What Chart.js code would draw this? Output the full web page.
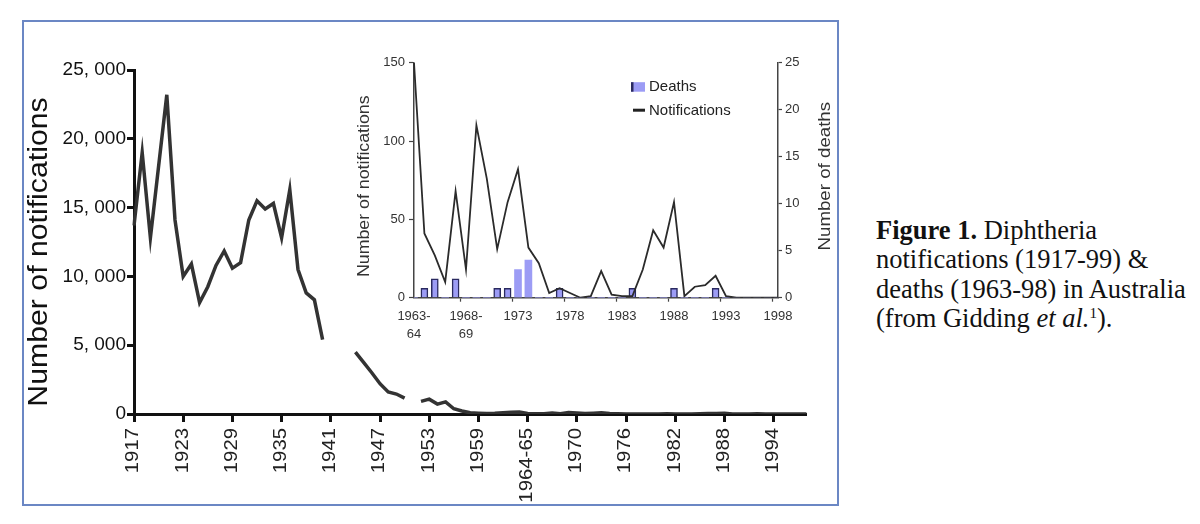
<!DOCTYPE html>
<html>
<head>
<meta charset="utf-8">
<script src="https://cdn.jsdelivr.net/npm/chart.js@4.4.1/dist/chart.umd.min.js"></script>
<style>
  html, body { margin: 0; padding: 0; background: #fff; }
  body { width: 1200px; height: 524px; position: relative; overflow: hidden; }
  #frame { position: absolute; left: 22px; top: 20px; width: 813px; height: 482px; border: 2px solid #6b87c4; }
  #mainWrap { position: absolute; left: 0; top: 0; width: 840px; height: 524px; }
  #insetWrap { position: absolute; left: 350px; top: 45px; width: 500px; height: 300px; }
  #caption { position: absolute; left: 876px; top: 216px; font-family: "Liberation Serif", "Times New Roman", serif; font-size: 26.5px; line-height: 29.3px; color: #111; white-space: nowrap; }
  #caption sup { font-size: 15px; line-height: 0; vertical-align: 9px; }
</style>
</head>
<body>
<div id="frame"></div>
<div id="mainWrap"><canvas id="mainChart" width="840" height="524"></canvas></div>
<div id="insetWrap"><canvas id="insetChart" width="500" height="300"></canvas></div>
<div id="caption"><b>Figure 1.</b> Diphtheria<br>notifications (1917-99) &amp;<br>deaths (1963-98) in Australia<br>(from Gidding <i>et al.</i><sup>1</sup>).</div>
<script>
// ---------- DATA ----------
const mainYears = [];
for (let y = 1917; y <= 1964; y++) mainYears.push(String(y));
mainYears.push("1964-65");
for (let y = 1965; y <= 1998; y++) mainYears.push(String(y));

const mainNotifications = [
  13700, 19000, 12800, 18000, 23200, 14100, 10000, 10900, 8100, 9250,
  10800, 11850, 10600, 11000, 14100, 15500, 14900, 15300, 12800, 16300,
  10500, 8800, 8300, 5400, null, null, null, 4500, 3750, 3000,
  2200, 1600, 1450, 1150, null, 920, 1080, 720, 880, 380,
  220, 90, 60, 40, 50, 90, 120, 150,
  41, 27, 10, 68, 18, 110, 76, 31, 61, 82,
  32, 22, 3, 6, 3, 0, 1, 17, 2, 1,
  1, 18, 43, 32, 61, 1, 7, 8, 14, 1,
  0, 0, 0, 0, 0
];

const mainYTicks = [0, 5000, 10000, 15000, 20000, 25000];
const mainYTitle = 'Number of notifications';

const insetYears = [["1963-", "64"], "1964-65", "1965-66", "1966-67", "1967-68", ["1968-", "69"]];
for (let y = 1969; y <= 1998; y++) insetYears.push(String(y));

const insetNotifications = [
  150, 41, 27, 10, 68, 18, 110, 76, 31, 61,
  82, 32, 22, 3, 6, 3, 0, 1, 17, 2,
  1, 1, 18, 43, 32, 61, 1, 7, 8, 14,
  1, 0, 0, 0, 0, 0
];

const insetDeaths = [
  0, 1, 2, 0, 2, 0, 0, 0, 1, 1,
  3, 4, 0, 0, 1, 0, 0, 0, 0, 0,
  0, 1, 0, 0, 0, 1, 0, 0, 0, 1,
  0, 0, 0, 0, 0, 0
];

const insetLeftTitle = 'Number of notifications';
const insetRightTitle = 'Number of deaths';
const legendLabels = ['Deaths', 'Notifications'];

// helper: vertical text reading bottom-to-top, slightly stretched along its length
function drawVerticalText(ctx, text, x, y, font, color, stretch, align) {
  ctx.save();
  ctx.fillStyle = color;
  ctx.font = font;
  ctx.textAlign = align || 'center';
  ctx.textBaseline = 'middle';
  ctx.translate(x, y);
  ctx.rotate(-Math.PI / 2);
  ctx.scale(stretch, 1);
  ctx.fillText(text, 0, 0);
  ctx.restore();
}

// ---------- MAIN CHART ----------
Chart.defaults.font.family = '"Liberation Sans", Arial, sans-serif';
Chart.defaults.animation = false;

const mainExtras = {
  id: 'mainExtras',
  afterDraw(chart) {
    const y = chart.scales.y;
    const x = chart.scales.x;
    drawVerticalText(chart.ctx, mainYTitle, y.left + 16, (y.top + y.bottom) / 2 + 10,
      '27px "Liberation Sans", Arial, sans-serif', '#111', 1.12);
    // rotated category labels (every 6th), slightly stretched like the original
    mainYears.forEach((lab, i) => {
      if (i % 6 !== 0) return;
      drawVerticalText(chart.ctx, lab, x.getPixelForValue(i) - 0.5, x.top + 14,
        '18px "Liberation Sans", Arial, sans-serif', '#222', 1.13, 'right');
    });
  }
};

new Chart(document.getElementById('mainChart'), {
  type: 'line',
  data: {
    labels: mainYears,
    datasets: [{
      data: mainNotifications,
      borderColor: '#333333',
      borderWidth: 3.5,
      borderJoinStyle: 'miter',
      pointRadius: 0,
      tension: 0,
      spanGaps: false
    }]
  },
  options: {
    responsive: false,
    devicePixelRatio: 1,
    layout: { padding: { left: 24, top: 70, right: 30, bottom: 10 } },
    plugins: { legend: { display: false }, tooltip: { enabled: false } },
    scales: {
      x: {
        type: 'category',
        offset: false,
        afterFit: s => { s.height = 100; },
        border: { display: true, color: '#111', width: 3 },
        grid: {
          drawOnChartArea: false,
          drawTicks: true,
          tickLength: 8,
          tickWidth: 3,
          tickColor: ctx => (ctx.index % 6 === 0 ? '#111' : 'rgba(0,0,0,0)')
        },
        ticks: {
          autoSkip: false,
          maxRotation: 90,
          minRotation: 90,
          padding: 12,
          color: '#222',
          font: { size: 18 },
          callback: () => ''
        }
      },
      y: {
        min: 0,
        max: 25000,
        afterFit: s => { s.width = 110; },
        afterBuildTicks: s => { s.ticks = mainYTicks.map(v => ({ value: v })); },
        border: { display: true, color: '#111', width: 3 },
        grid: { drawOnChartArea: false, tickLength: 7, tickWidth: 3, tickColor: '#111' },
        ticks: {
          padding: 1,
          color: '#111',
          font: { size: 19 },
          callback: v => v.toLocaleString('en-US').replace(',', ', ')
        }
      }
    }
  },
  plugins: [mainExtras]
});

// ---------- INSET CHART ----------
const insetExtras = {
  id: 'insetExtras',
  afterDraw(chart) {
    const ctx = chart.ctx;
    const ca = chart.chartArea;
    const yl = chart.scales.y;
    const yr = chart.scales.y2;
    drawVerticalText(ctx, insetLeftTitle, yl.left + 15, (yl.top + yl.bottom) / 2 + 6,
      '16px "Liberation Sans", Arial, sans-serif', '#333', 1.11);
    drawVerticalText(ctx, insetRightTitle, yr.right - 13, (yr.top + yr.bottom) / 2 - 4,
      '17px "Liberation Sans", Arial, sans-serif', '#333', 1.1);

    // legend
    ctx.save();
    const lx = ca.left + 217, ly = ca.top + 19.5;
    ctx.fillStyle = '#9c9cf5';
    ctx.fillRect(lx, ly, 14, 9.5);
    ctx.fillStyle = '#2a2a60';
    ctx.fillRect(lx, ly, 2.5, 9.5);
    ctx.strokeStyle = '#222';
    ctx.lineWidth = 3;
    ctx.beginPath();
    ctx.moveTo(lx + 2, ly + 28);
    ctx.lineTo(lx + 14, ly + 28);
    ctx.stroke();
    ctx.fillStyle = '#222';
    ctx.font = '15px "Liberation Sans", Arial, sans-serif';
    ctx.textAlign = 'left';
    ctx.textBaseline = 'middle';
    ctx.fillText(legendLabels[0], lx + 18, ly + 5);
    ctx.fillText(legendLabels[1], lx + 18, ly + 29);
    ctx.restore();
  }
};

new Chart(document.getElementById('insetChart'), {
  type: 'bar',
  data: {
    labels: insetYears,
    datasets: [
      {
        type: 'line',
        label: legendLabels[1],
        data: insetNotifications,
        yAxisID: 'y',
        borderColor: '#2b2b2b',
        borderWidth: 1.8,
        pointRadius: 0,
        tension: 0,
        order: 0
      },
      {
        type: 'bar',
        label: legendLabels[0],
        data: insetDeaths,
        yAxisID: 'y2',
        backgroundColor: '#9c9cf5',
        borderColor: '#2a2a60',
        borderWidth: ctx => (ctx.raw > 0 && ctx.raw <= 2 ? 1.5 : 0),
        barThickness: 7,
        order: 1
      }
    ]
  },
  options: {
    responsive: false,
    devicePixelRatio: 1,
    layout: { padding: { left: 0, top: 17.7, right: 12, bottom: 7.3 } },
    plugins: { legend: { display: false }, tooltip: { enabled: false } },
    scales: {
      x: {
        type: 'category',
        offset: false,
        afterFit: s => { s.height = 40; },
        border: { display: true, color: '#444', width: 1.5 },
        grid: {
          drawOnChartArea: false,
          tickLength: 4,
          tickWidth: 1.2,
          tickColor: ctx => (ctx.index % 5 === 0 ? '#444' : 'rgba(0,0,0,0)')
        },
        ticks: {
          autoSkip: false,
          maxRotation: 0,
          minRotation: 0,
          padding: 6,
          color: '#333',
          font: { size: 13, lineHeight: 1.35 },
          callback: function (v, i) { return i % 5 === 0 ? this.getLabelForValue(v) : ''; }
        }
      },
      y: {
        position: 'left',
        min: 0,
        max: 150,
        afterFit: s => { s.width = 64; },
        border: { display: true, color: '#444', width: 1.5 },
        grid: { drawOnChartArea: false, tickLength: 5, tickWidth: 1.2, tickColor: '#444' },
        ticks: { stepSize: 50, padding: 4, color: '#333', font: { size: 13 } }
      },
      y2: {
        position: 'right',
        min: 0,
        max: 25,
        afterFit: s => { s.width = 60; },
        border: { display: true, color: '#444', width: 1.5 },
        grid: { drawOnChartArea: false, tickLength: 4, tickWidth: 1.2, tickColor: '#444' },
        ticks: { stepSize: 5, padding: 3, color: '#333', font: { size: 13 } }
      }
    }
  },
  plugins: [insetExtras]
});
</script>
</body>
</html>
